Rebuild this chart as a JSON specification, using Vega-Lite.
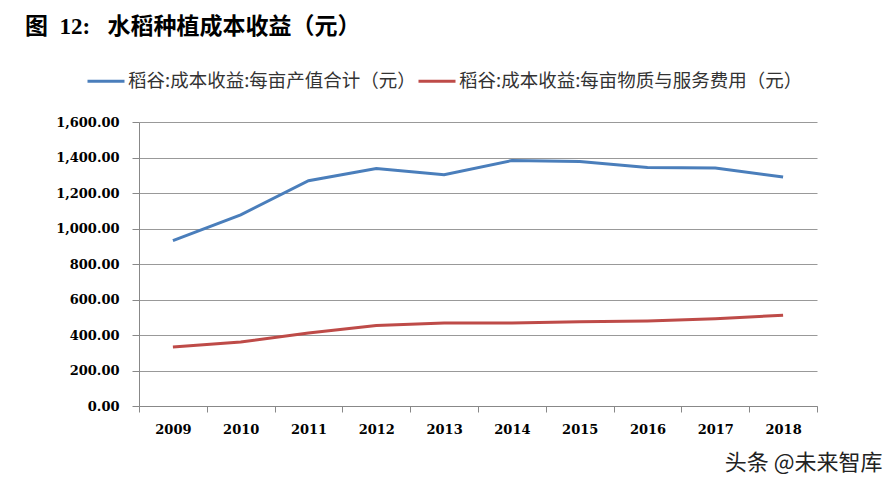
{
  "$schema": "https://vega.github.io/schema/vega-lite/v6.json",
  "autosize": {"type": "none"},
  "padding": {"left": 139, "top": 122, "right": 79, "bottom": 81},
  "width": 678,
  "height": 284,
  "background": "white",
  "title": {
    "text": "图\u00a0 12:\u00a0\u00a0 水稻种植成本收益（元）",
    "font": "Liberation Serif, Noto Sans CJK SC",
    "fontSize": 23,
    "fontWeight": "bold",
    "color": "#000000",
    "anchor": "start",
    "frame": "group",
    "dx": -114,
    "offset": 22
  },
  "data": {
    "values": [
      {"year": "2009", "series": "稻谷:成本收益:每亩产值合计（元）", "value": 932},
      {"year": "2010", "series": "稻谷:成本收益:每亩产值合计（元）", "value": 1077},
      {"year": "2011", "series": "稻谷:成本收益:每亩产值合计（元）", "value": 1269},
      {"year": "2012", "series": "稻谷:成本收益:每亩产值合计（元）", "value": 1338},
      {"year": "2013", "series": "稻谷:成本收益:每亩产值合计（元）", "value": 1303},
      {"year": "2014", "series": "稻谷:成本收益:每亩产值合计（元）", "value": 1383},
      {"year": "2015", "series": "稻谷:成本收益:每亩产值合计（元）", "value": 1378},
      {"year": "2016", "series": "稻谷:成本收益:每亩产值合计（元）", "value": 1344},
      {"year": "2017", "series": "稻谷:成本收益:每亩产值合计（元）", "value": 1341},
      {"year": "2018", "series": "稻谷:成本收益:每亩产值合计（元）", "value": 1290},
      {"year": "2009", "series": "稻谷:成本收益:每亩物质与服务费用（元）", "value": 333},
      {"year": "2010", "series": "稻谷:成本收益:每亩物质与服务费用（元）", "value": 361},
      {"year": "2011", "series": "稻谷:成本收益:每亩物质与服务费用（元）", "value": 411},
      {"year": "2012", "series": "稻谷:成本收益:每亩物质与服务费用（元）", "value": 453},
      {"year": "2013", "series": "稻谷:成本收益:每亩物质与服务费用（元）", "value": 468},
      {"year": "2014", "series": "稻谷:成本收益:每亩物质与服务费用（元）", "value": 468},
      {"year": "2015", "series": "稻谷:成本收益:每亩物质与服务费用（元）", "value": 474},
      {"year": "2016", "series": "稻谷:成本收益:每亩物质与服务费用（元）", "value": 479},
      {"year": "2017", "series": "稻谷:成本收益:每亩物质与服务费用（元）", "value": 492},
      {"year": "2018", "series": "稻谷:成本收益:每亩物质与服务费用（元）", "value": 511}
    ]
  },
  "mark": {"type": "line", "strokeWidth": 3},
  "encoding": {
    "x": {
      "field": "year",
      "type": "ordinal",
      "scale": {"paddingInner": 0, "paddingOuter": 0},
      "axis": {
        "title": "头条 @未来智库",
        "titleFont": "Noto Sans CJK SC",
        "titleFontSize": 22,
        "titleFontWeight": "normal",
        "titleColor": "#222222",
        "titleAnchor": "start",
        "titleAlign": "right",
        "titleBaseline": "middle",
        "titleX": 743,
        "titleY": 56,
        "labelAngle": 0,
        "labelFont": "DejaVu Serif",
        "labelFontWeight": "bold",
        "labelFontSize": 13,
        "labelColor": "#000000",
        "labelPadding": 11,
        "tickSize": 6,
        "tickBand": "extent",
        "tickColor": "#888888",
        "domainColor": "#888888",
        "grid": false
      }
    },
    "y": {
      "field": "value",
      "type": "quantitative",
      "scale": {"domain": [0, 1600], "nice": false},
      "axis": {
        "title": null,
        "values": [0, 200, 400, 600, 800, 1000, 1200, 1400, 1600],
        "format": ",.2f",
        "labelFont": "DejaVu Serif",
        "labelFontWeight": "bold",
        "labelFontSize": 13,
        "labelColor": "#000000",
        "labelPadding": 13,
        "tickSize": 7,
        "tickColor": "#888888",
        "domainColor": "#888888",
        "grid": true,
        "gridColor": "#999999",
        "gridWidth": 1
      }
    },
    "color": {
      "field": "series",
      "type": "nominal",
      "sort": ["稻谷:成本收益:每亩产值合计（元）", "稻谷:成本收益:每亩物质与服务费用（元）"],
      "scale": {
        "domain": ["稻谷:成本收益:每亩产值合计（元）", "稻谷:成本收益:每亩物质与服务费用（元）"],
        "range": ["#4A7EBB", "#BE4B48"]
      },
      "legend": {
        "title": null,
        "orient": "none",
        "direction": "horizontal",
        "legendX": -53,
        "legendY": -61,
        "symbolType": "stroke",
        "symbolSize": 1369,
        "symbolStrokeWidth": 3,
        "labelFont": "Noto Sans CJK SC",
        "labelFontSize": 18.5,
        "labelColor": "#333333",
        "labelOffset": 2,
        "labelLimit": 500,
        "columnPadding": -4
      }
    }
  },
  "config": {
    "view": {"stroke": null}
  }
}
